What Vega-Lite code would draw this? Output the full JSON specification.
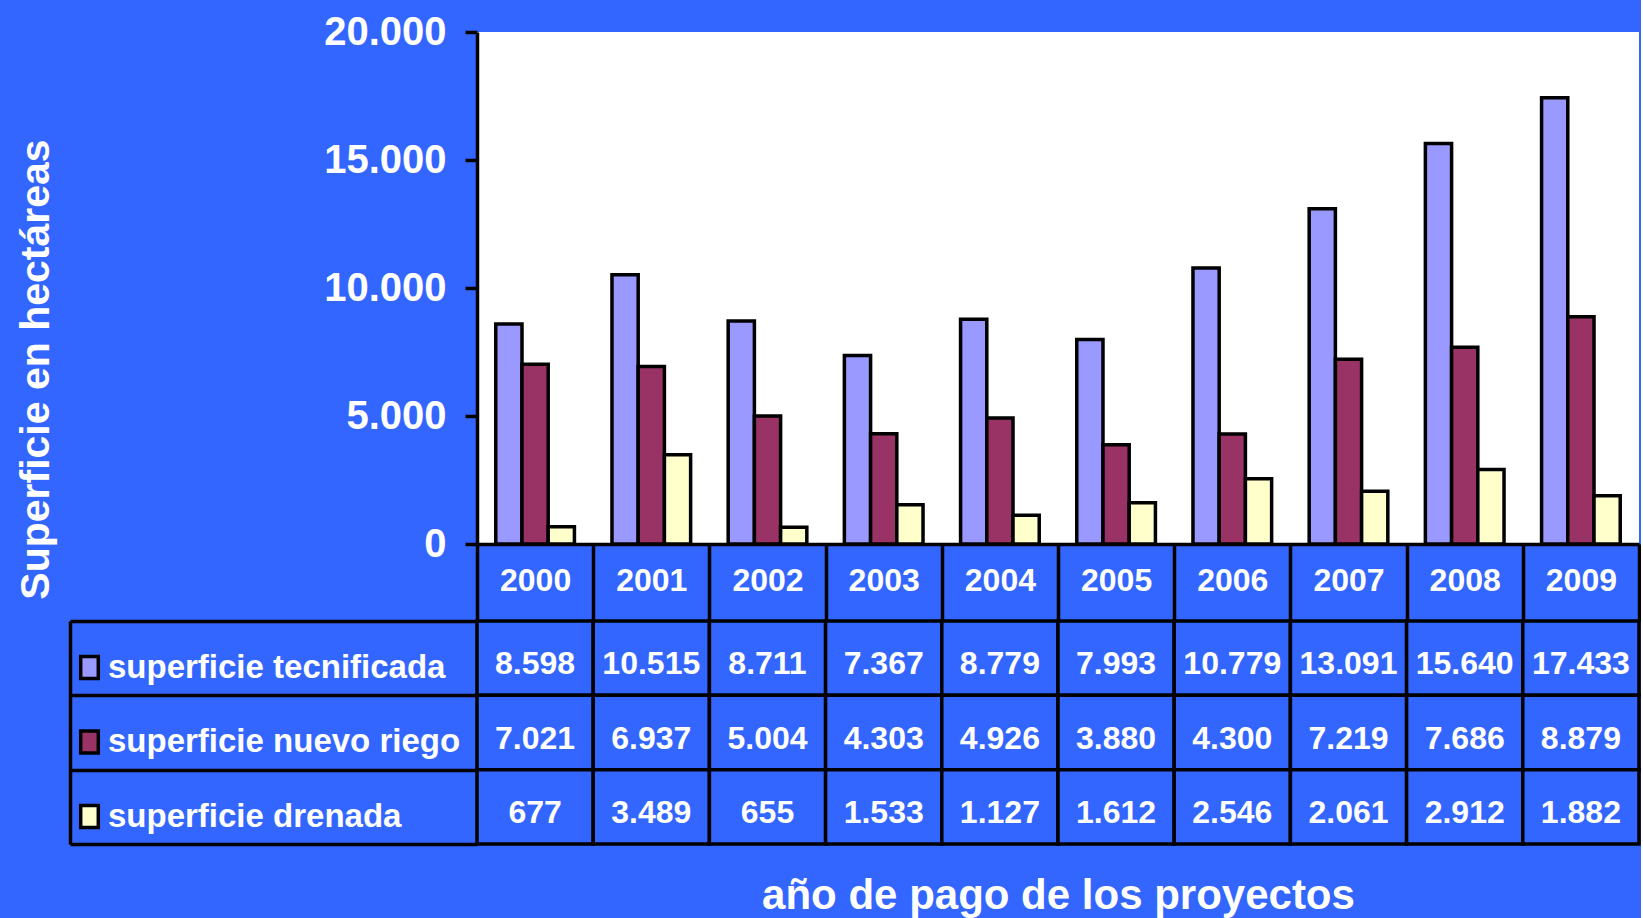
{
  "$schema": "https://vega.github.io/schema/vega-lite/v6.json",
  "background": "#3366ff",
  "padding": {"left": 14, "top": 12, "right": 0, "bottom": 4},
  "config": {
    "font": "Liberation Sans",
    "locale": {"number": {"decimal": ",", "thousands": ".", "grouping": [3], "currency": ["", ""]}},
    "view": {"stroke": null}
  },
  "datasets": {
    "tabla": [
      {"year": "2000", "serie": "superficie tecnificada", "valor": 8598},
      {"year": "2001", "serie": "superficie tecnificada", "valor": 10515},
      {"year": "2002", "serie": "superficie tecnificada", "valor": 8711},
      {"year": "2003", "serie": "superficie tecnificada", "valor": 7367},
      {"year": "2004", "serie": "superficie tecnificada", "valor": 8779},
      {"year": "2005", "serie": "superficie tecnificada", "valor": 7993},
      {"year": "2006", "serie": "superficie tecnificada", "valor": 10779},
      {"year": "2007", "serie": "superficie tecnificada", "valor": 13091},
      {"year": "2008", "serie": "superficie tecnificada", "valor": 15640},
      {"year": "2009", "serie": "superficie tecnificada", "valor": 17433},
      {"year": "2000", "serie": "superficie nuevo riego", "valor": 7021},
      {"year": "2001", "serie": "superficie nuevo riego", "valor": 6937},
      {"year": "2002", "serie": "superficie nuevo riego", "valor": 5004},
      {"year": "2003", "serie": "superficie nuevo riego", "valor": 4303},
      {"year": "2004", "serie": "superficie nuevo riego", "valor": 4926},
      {"year": "2005", "serie": "superficie nuevo riego", "valor": 3880},
      {"year": "2006", "serie": "superficie nuevo riego", "valor": 4300},
      {"year": "2007", "serie": "superficie nuevo riego", "valor": 7219},
      {"year": "2008", "serie": "superficie nuevo riego", "valor": 7686},
      {"year": "2009", "serie": "superficie nuevo riego", "valor": 8879},
      {"year": "2000", "serie": "superficie drenada", "valor": 677},
      {"year": "2001", "serie": "superficie drenada", "valor": 3489},
      {"year": "2002", "serie": "superficie drenada", "valor": 655},
      {"year": "2003", "serie": "superficie drenada", "valor": 1533},
      {"year": "2004", "serie": "superficie drenada", "valor": 1127},
      {"year": "2005", "serie": "superficie drenada", "valor": 1612},
      {"year": "2006", "serie": "superficie drenada", "valor": 2546},
      {"year": "2007", "serie": "superficie drenada", "valor": 2061},
      {"year": "2008", "serie": "superficie drenada", "valor": 2912},
      {"year": "2009", "serie": "superficie drenada", "valor": 1882}
    ]
  },
  "spacing": 77,
  "bounds": "flush",
  "resolve": {
    "scale": {"x": "independent", "y": "independent", "color": "independent"},
    "legend": {"color": "independent"}
  },
  "vconcat": [
    {
      "width": 1162,
      "height": 512,
      "view": {"fill": "white", "stroke": null},
      "data": {"name": "tabla"},
      "mark": {"type": "bar", "stroke": "black", "strokeWidth": 3.5, "strokeJoin": "miter"},
      "encoding": {
        "x": {
          "field": "year",
          "type": "ordinal",
          "scale": {"paddingInner": 0, "paddingOuter": 0},
          "axis": {
            "title": null,
            "labelAngle": 0,
            "domainColor": "black",
            "domainWidth": 3.5,
            "tickColor": "black",
            "tickWidth": 3.5,
            "tickSize": 77,
            "tickBand": "extent",
            "labelColor": "white",
            "labelFontSize": 32,
            "labelFontWeight": "bold",
            "labelBaseline": "middle",
            "labelPadding": -41
          }
        },
        "xOffset": {
          "field": "serie",
          "type": "nominal",
          "sort": ["superficie tecnificada", "superficie nuevo riego", "superficie drenada"],
          "scale": {"paddingInner": 0, "paddingOuter": 0.716}
        },
        "y": {
          "field": "valor",
          "type": "quantitative",
          "scale": {"domain": [0, 20000]},
          "axis": {
            "title": "Superficie en hectáreas",
            "values": [0, 5000, 10000, 15000, 20000],
            "format": ",d",
            "grid": false,
            "domainColor": "black",
            "domainWidth": 3.5,
            "tickColor": "black",
            "tickWidth": 3.5,
            "tickSize": 12,
            "labelColor": "white",
            "labelFontSize": 40,
            "labelFontWeight": "bold",
            "labelPadding": 19,
            "titleColor": "white",
            "titleFontSize": 41,
            "titleFontWeight": "bold",
            "titleAngle": -90,
            "titleBaseline": "middle",
            "titleX": -441,
            "titleY": 337
          }
        },
        "color": {
          "field": "serie",
          "type": "nominal",
          "scale": {
            "domain": ["superficie tecnificada", "superficie nuevo riego", "superficie drenada"],
            "range": ["#9999ff", "#993366", "#ffffcc"]
          },
          "legend": {
            "orient": "none",
            "legendX": -404,
            "legendY": 619,
            "title": null,
            "direction": "vertical",
            "padding": 0,
            "symbolType": "M-0.8,-1H0.8V1H-0.8Z",
            "symbolSize": 484,
            "symbolStrokeColor": "black",
            "symbolStrokeWidth": 3.5,
            "symbolOpacity": 1,
            "labelColor": "white",
            "labelFontSize": 33,
            "labelFontWeight": "bold",
            "labelLimit": 0,
            "labelOffset": 2,
            "rowPadding": 37.5
          }
        }
      }
    },
    {
      "width": 1162,
      "height": 223,
      "data": {"name": "tabla"},
      "encoding": {
        "x": {
          "field": "year",
          "type": "ordinal",
          "scale": {"paddingInner": 0, "paddingOuter": 0},
          "axis": {
            "title": "año de pago de los proyectos",
            "labels": false,
            "ticks": false,
            "domain": false,
            "titleColor": "white",
            "titleFontSize": 42,
            "titleFontWeight": "bold",
            "titlePadding": 31
          }
        },
        "y": {
          "field": "serie",
          "type": "nominal",
          "sort": ["superficie tecnificada", "superficie nuevo riego", "superficie drenada"],
          "scale": {"paddingInner": 0, "paddingOuter": 0},
          "axis": {
            "title": null,
            "labels": false,
            "offset": 407,
            "tickSize": -407,
            "tickBand": "extent",
            "tickColor": "black",
            "tickWidth": 3.5,
            "domainColor": "black",
            "domainWidth": 3.5
          }
        }
      },
      "layer": [
        {
          "mark": {"type": "rect", "fill": "#3366ff", "stroke": "black", "strokeWidth": 3.5}
        },
        {
          "mark": {"type": "text", "color": "white", "fontSize": 32, "fontWeight": "bold", "baseline": "middle", "dy": 6},
          "encoding": {
            "text": {"field": "valor", "type": "quantitative", "format": ",d"}
          }
        }
      ]
    }
  ]
}
